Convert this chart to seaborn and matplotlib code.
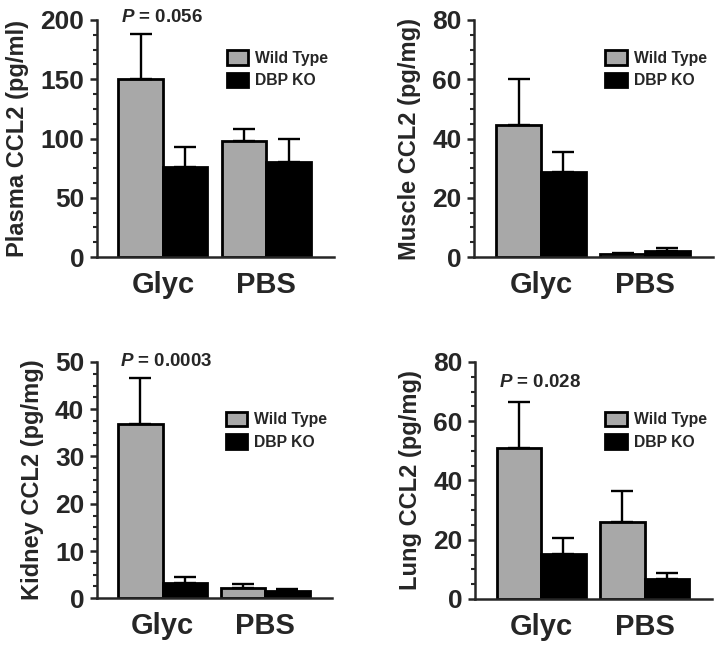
import numpy as np
import pandas as pd
import seaborn as sns
import matplotlib.pyplot as plt
from matplotlib.ticker import AutoMinorLocator

# ---------------------------------------------------------------------------
# Data (mean and upper SEM for each bar)
# ---------------------------------------------------------------------------
groups = ["Glyc", "PBS"]
genotypes = ["Wild Type", "DBP KO"]

plasma_wt = [150, 98]
plasma_ko = [76, 80]
plasma_wt_err = [38, 10]
plasma_ko_err = [17, 20]

muscle_wt = [44.4, 1.0]
muscle_ko = [28.8, 2.1]
muscle_wt_err = [15.6, 0.3]
muscle_ko_err = [6.5, 1.0]

kidney_wt = [36.8, 2.1]
kidney_ko = [3.3, 1.5]
kidney_wt_err = [9.8, 0.9]
kidney_ko_err = [1.1, 0.5]

lung_wt = [51.0, 26.1]
lung_ko = [15.2, 6.6]
lung_wt_err = [15.5, 10.2]
lung_ko_err = [5.5, 2.1]

panels = [
    ("Plasma CCL2 (pg/ml)", plasma_wt, plasma_ko, plasma_wt_err, plasma_ko_err,
     200, 50, "0.056", 202.5, 0.873),
    ("Muscle CCL2 (pg/mg)", muscle_wt, muscle_ko, muscle_wt_err, muscle_ko_err,
     80, 20, None, None, 0.873),
    ("Kidney CCL2 (pg/mg)", kidney_wt, kidney_ko, kidney_wt_err, kidney_ko_err,
     50, 10, "0.0003", 50, 0.79),
    ("Lung CCL2 (pg/mg)", lung_wt, lung_ko, lung_wt_err, lung_ko_err,
     80, 20, "0.028", 73, 0.79),
]

GREY = "#a8a8a8"

# ---------------------------------------------------------------------------
# Style
# ---------------------------------------------------------------------------
sns.set_theme(style="ticks")
plt.rcParams["font.family"] = ["Liberation Sans", "DejaVu Sans"]
plt.rcParams["font.weight"] = "bold"
plt.rcParams["mathtext.fontset"] = "custom"
plt.rcParams["mathtext.it"] = "Liberation Sans:italic:bold"
plt.rcParams["mathtext.rm"] = "Liberation Sans:bold"

fig = plt.figure(figsize=(7.22, 6.53), dpi=100)
positions = [
    [0.134, 0.6064, 0.328, 0.363],
    [0.657, 0.6064, 0.330, 0.363],
    [0.134, 0.0838, 0.326, 0.362],
    [0.658, 0.0827, 0.328, 0.363],
]

for pos, (ylabel, wt, ko, wt_err, ko_err, ymax, ystep, ptext, py, leg_y) in zip(positions, panels):
    ax = fig.add_axes(pos)
    df = pd.DataFrame({
        "group": groups * 2,
        "genotype": [genotypes[0]] * 2 + [genotypes[1]] * 2,
        "value": list(wt) + list(ko),
    })
    sns.barplot(data=df, x="group", y="value", hue="genotype",
                order=groups, hue_order=genotypes,
                palette=[GREY, "black"], saturation=1, width=0.86,
                edgecolor="black", linewidth=2.0, errorbar=None, ax=ax)

    # upward-only error bars at the bar centres
    for cont, errs in zip(ax.containers, [wt_err, ko_err]):
        for bar, e in zip(cont, errs):
            xc = bar.get_x() + bar.get_width() / 2
            h = bar.get_height()
            ax.errorbar(xc, h, yerr=[[0], [e]], fmt="none", ecolor="black",
                        elinewidth=1.7, capsize=8, capthick=1.7, zorder=1)

    if ptext is not None:
        b = ax.containers[0][0]
        ax.text(b.get_x() + 0.02, py, r"$\mathit{P}$ = " + ptext, ha="left", va="center",
                fontsize=13.5, fontweight="bold", clip_on=False)

    ax.set_xlim(-0.64, 1.65)
    ax.set_ylim(0, ymax)
    ax.set_yticks(np.arange(0, ymax + 1, ystep))
    ax.yaxis.set_minor_locator(AutoMinorLocator(4))
    ax.set_xlabel("")
    ax.set_ylabel(ylabel, fontsize=17, fontweight="bold", labelpad=8)
    ax.tick_params(axis="y", which="major", length=5, width=1.8, labelsize=19, pad=4)
    ax.tick_params(axis="y", which="minor", length=3, width=1.5)
    ax.tick_params(axis="x", length=0, labelsize=21, pad=10)
    for lbl in ax.get_xticklabels() + ax.get_yticklabels():
        lbl.set_fontweight("bold")
    sns.despine(ax=ax)
    for s in ("left", "bottom"):
        ax.spines[s].set_linewidth(1.8)

    ax.legend(loc="upper left", bbox_to_anchor=(0.55, leg_y), frameon=False,
              borderpad=0, borderaxespad=0, handlelength=1.35, handleheight=1.05,
              handletextpad=0.45, labelspacing=0.45,
              prop={"size": 11.3, "weight": "bold"})

fig.savefig("out.png", dpi=100)
